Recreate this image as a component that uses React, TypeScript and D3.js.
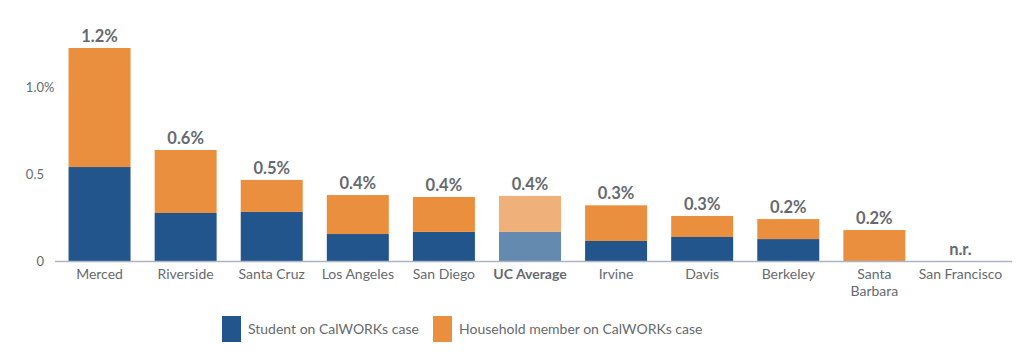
import React from "react";
import * as d3 from "d3";

const categories = ["Merced", "Riverside", "Santa Cruz", "Los Angeles", "San Diego", "UC Average", "Irvine", "Davis", "Berkeley", "Santa Barbara", "San Francisco"];
const studentValues: (number | null)[] = [0.54, 0.276, 0.282, 0.155, 0.167, 0.167, 0.115, 0.138, 0.126, 0, null];
const householdValues: (number | null)[] = [0.684, 0.362, 0.184, 0.224, 0.201, 0.207, 0.205, 0.121, 0.115, 0.178, null];
const valueLabels = ["1.2%", "0.6%", "0.5%", "0.4%", "0.4%", "0.4%", "0.3%", "0.3%", "0.2%", "0.2%", "n.r."];
const yTicks = [0, 0.5, 1.0];
const yTickLabels = ["0", "0.5", "1.0"];
const seriesNames = ["Student on CalWORKs case", "Household member on CalWORKs case"];

const W = 1024, H = 355;
const FONT = "Lato, 'Open Sans', sans-serif";
const BLUE = "#21558c";
const ORANGE = "#ea8f3e";
const BLUE_L = "#648ab0";
const ORANGE_L = "#f0b07a";
const GRAY = "#666a70";

export default function App() {
  const x = d3.scaleBand<string>().domain(categories).range([56.5, 1003.5]).paddingInner(0.28).paddingOuter(0.14);
  const y = d3.scaleLinear().domain([0, 1]).range([261, 87]);
  return (
    <svg width={W} height={H} style={{ position: "absolute", left: 0, top: 0 }} fontFamily={FONT}>
      <rect width={W} height={H} fill="#fff" />
      {yTicks.map((t, i) => (
        <g key={i}>
          <text x={44} y={y(t) + 5} textAnchor="end" fontSize={13} fill={GRAY}>{yTickLabels[i]}</text>
          {i === 2 && <text x={44} y={y(t) + 5} fontSize={13} fill={GRAY}>%</text>}
        </g>
      ))}
      {categories.map((c, i) => {
        const s = studentValues[i];
        const h = householdValues[i];
        const avg = c === "UC Average";
        const bx = x(c)!;
        const bw = x.bandwidth();
        const total = (s ?? 0) + (h ?? 0);
        const cx = bx + bw / 2;
        return (
          <g key={c}>
            {s !== null && s > 0 && (
              <rect x={bx} y={y(s)} width={bw} height={y(0) - y(s)} fill={avg ? BLUE_L : BLUE} />
            )}
            {h !== null && (
              <rect x={bx} y={y(total)} width={bw} height={y(s ?? 0) - y(total)} fill={avg ? ORANGE_L : ORANGE} />
            )}
            <text x={cx} y={s === null ? y(0) - 6 : y(total) - 6} textAnchor="middle" fontSize={16.5} fontWeight="bold" fill={GRAY}>
              {valueLabels[i]}
            </text>
            {c === "Santa Barbara" ? (
              <text x={cx} y={279} textAnchor="middle" fontSize={14} fill={GRAY}>
                <tspan x={cx}>Santa</tspan>
                <tspan x={cx} dy={17}>Barbara</tspan>
              </text>
            ) : (
              <text x={cx} y={279} textAnchor="middle" fontSize={14} fill={GRAY} fontWeight={avg ? "bold" : "normal"}>{c}</text>
            )}
          </g>
        );
      })}
      <line x1={55} x2={1012} y1={y(0) + 0.5} y2={y(0) + 0.5} stroke="#aab4c4" strokeWidth={1.5} />
      <rect x={222} y={316} width={19} height={26} fill={BLUE} />
      <text x={248} y={334} fontSize={14} fill={GRAY}>{seriesNames[0]}</text>
      <rect x={433} y={316} width={19} height={26} fill={ORANGE} />
      <text x={459} y={334} fontSize={14} fill={GRAY}>{seriesNames[1]}</text>
    </svg>
  );
}
